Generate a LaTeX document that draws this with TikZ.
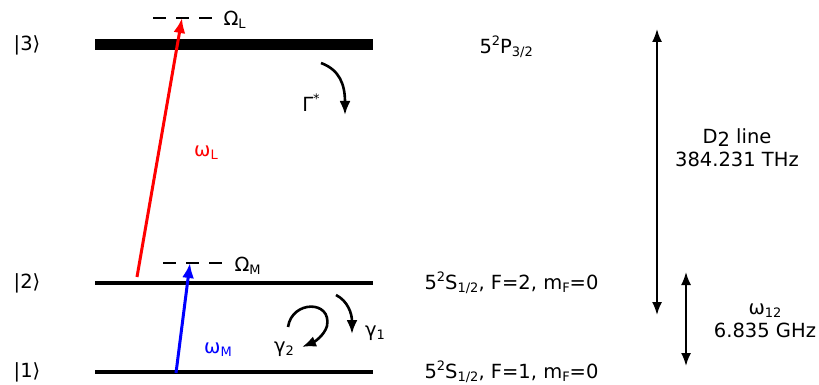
\documentclass[tikz,border=0pt]{standalone}
\usepackage{fontspec}
\setmainfont{DejaVu Sans}
\usetikzlibrary{arrows.meta}
\newcommand{\lowtxt}[1]{\raisebox{-0.3ex}{\fontsize{13}{13}\selectfont #1}}
\newcommand{\uptxt}[1]{\raisebox{0.75ex}{\fontsize{13}{13}\selectfont #1}}
\begin{document}
\begin{tikzpicture}[
    x=1pt, y=-1pt,
    font=\fontsize{19.5}{23}\selectfont,
    level line/.style={line width=3.5pt},
    virtual line/.style={line width=2.5pt, dash pattern=on 13pt off 10pt},
    laser arrow/.style={-{Latex[length=15pt,width=12pt]}, line width=3pt},
    decay arrow/.style={-{Latex[length=14pt,width=11pt]}, line width=2.6pt},
    span arrow/.style={{Latex[length=13pt,width=10pt]}-{Latex[length=13pt,width=10pt]}, line width=1.8pt}
]
    \useasboundingbox (0,0) rectangle (819,385);

    % levels
    \coordinate (l3a) at (95,45);  \coordinate (l3b) at (373,45);
    \coordinate (l2a) at (95,283); \coordinate (l2b) at (373,283);
    \coordinate (l1a) at (95,372); \coordinate (l1b) at (373,372);
    \draw[line width=11pt] (l3a) -- (l3b);
    \draw[level line] (l2a) -- (l2b);
    \draw[level line] (l1a) -- (l1b);

    \node (k3) at (27,45) {|3⟩};
    \node (k2) at (27,283) {|2⟩};
    \node (k1) at (27,372) {|1⟩};

    % virtual levels
    \coordinate (vLa) at (153,18); \coordinate (vLb) at (212,18);
    \coordinate (vMa) at (163,263); \coordinate (vMb) at (222,263);
    \draw[virtual line] (vLa) -- (vLb);
    \draw[virtual line] (vMa) -- (vMb);
    \node[anchor=west] (OmL) at (220,20) {Ω\lowtxt{L}};
    \node[anchor=west] (OmM) at (231,266) {Ω\lowtxt{M}};

    % couplings
    \coordinate (rL0) at (137,277); \coordinate (rL1) at (182,18);
    \coordinate (rM0) at (176,373); \coordinate (rM1) at (190,263);
    \draw[laser arrow, red] (rL0) -- (rL1);
    \draw[laser arrow, blue] (rM0) -- (rM1);
    \node[red] (wL) at (206,153) {ω\lowtxt{L}};
    \node[blue] (wM) at (218,350) {ω\lowtxt{M}};

    % decays
    \coordinate (G0) at (321,63); \coordinate (G1) at (345,115);
    \draw[decay arrow] (G0) .. controls (340,70) and (345,85) .. (G1);
    \node (Gam) at (311,103) {Γ\uptxt{*}};

    \coordinate (g10) at (336,295); \coordinate (g11) at (352,334);
    \draw[decay arrow] (g10) .. controls (348,301) and (352,314) .. (g11);
    \node (gam1) at (375,333) {γ\lowtxt{1}};

    \coordinate (g20) at (288,327); \coordinate (g21) at (302,347);
    \draw[decay arrow] (g20) .. controls (292,300) and (332,300) .. (327,326)
        .. controls (324,336) and (314,342) .. (g21);
    \node (gam2) at (284,349) {γ\lowtxt{2}};

    % state names
    \node[anchor=west] (P32) at (476,47) {5\uptxt{2}P\lowtxt{3/2}};
    \node[anchor=west] (S2) at (421,283) {5\uptxt{2}S\lowtxt{1/2}, F=2, m\lowtxt{F}=0};
    \node[anchor=west] (S1) at (421,372) {5\uptxt{2}S\lowtxt{1/2}, F=1, m\lowtxt{F}=0};

    % splittings
    \coordinate (D2t) at (657,29); \coordinate (D2b) at (657,315);
    \coordinate (hft) at (686,272); \coordinate (hfb) at (686,366);
    \draw[span arrow] (D2b) -- (D2t);
    \draw[span arrow] (hfb) -- (hft);
    \node[align=center] (D2) at (737,148) {D\raisebox{-0.3ex}{2} line\\384.231 THz};
    \node[align=center, inner sep=1pt] (hf) at (765,321) {ω\lowtxt{12}\\6.835 GHz};
\end{tikzpicture}
\end{document}
